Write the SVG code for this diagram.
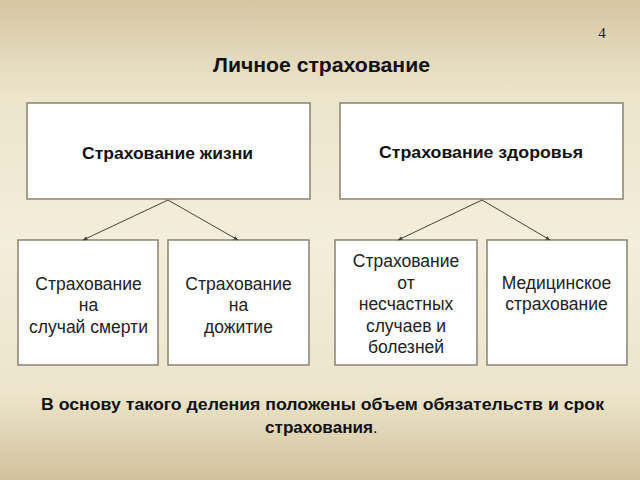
<svg xmlns="http://www.w3.org/2000/svg" width="640" height="480" viewBox="0 0 640 480">
<defs>
<linearGradient id="bg" x1="0" y1="0" x2="0" y2="1">
<stop offset="0" stop-color="#d6c6a2"/>
<stop offset="0.2" stop-color="#ece5cc"/>
<stop offset="0.5" stop-color="#f3eedb"/>
<stop offset="0.82" stop-color="#ece5cc"/>
<stop offset="1" stop-color="#d2c19b"/>
</linearGradient>
<marker id="ah" viewBox="0 0 10 10" refX="9" refY="5" markerWidth="5" markerHeight="5" orient="auto-start-reverse" markerUnits="userSpaceOnUse">
<path d="M0,1 L10,5 L0,9 z" fill="#4a4235"/>
</marker>
<style>
.box{fill:#ffffff;stroke:#8a8272;stroke-width:1.5}
.bt{font-family:"Liberation Sans",Arial,sans-serif;font-size:16.5px;font-weight:bold;fill:#111;text-anchor:middle}
.st{font-family:"Liberation Sans",Arial,sans-serif;font-size:17.5px;fill:#222;text-anchor:middle}
.conn{stroke:#4a4235;stroke-width:1;fill:none;marker-end:url(#ah)}
</style>
</defs>
<rect x="0" y="0" width="640" height="480" fill="url(#bg)"/>
<text x="602" y="38" font-family="Liberation Serif,serif" font-size="15" fill="#222" text-anchor="middle">4</text>
<text x="321.5" y="72" font-family="Liberation Sans,Arial,sans-serif" font-size="20" font-weight="bold" fill="#111" text-anchor="middle" textLength="217" lengthAdjust="spacingAndGlyphs">Личное страхование</text>
<g id="n-life"><rect class="box" x="27" y="103" width="283" height="96"/><text class="bt" x="167.5" y="159" textLength="171" lengthAdjust="spacingAndGlyphs">Страхование жизни</text></g>
<g id="n-health"><rect class="box" x="340" y="103" width="283" height="96"/><text class="bt" x="481" y="158" textLength="204" lengthAdjust="spacingAndGlyphs">Страхование здоровья</text></g>
<g id="n-death"><rect class="box" x="18" y="240" width="140" height="125"/><text class="st" x="88.5" y="289.5">Страхование</text><text class="st" x="88.5" y="311">на</text><text class="st" x="88.5" y="332.5">случай смерти</text></g>
<g id="n-survival"><rect class="box" x="168" y="240" width="141" height="125"/><text class="st" x="238.5" y="289.5">Страхование</text><text class="st" x="238.5" y="311">на</text><text class="st" x="238.5" y="332.5">дожитие</text></g>
<g id="n-accident"><rect class="box" x="335" y="240" width="142" height="125"/><text class="st" x="406" y="267">Страхование</text><text class="st" x="406" y="288.5">от</text><text class="st" x="406" y="310">несчастных</text><text class="st" x="406" y="331.5">случаев и</text><text class="st" x="406" y="353">болезней</text></g>
<g id="n-medical"><rect class="box" x="487" y="240" width="140" height="125"/><text class="st" x="556.5" y="289">Медицинское</text><text class="st" x="556.5" y="310">страхование</text></g>
<g id="connectors">
<line class="conn" x1="168" y1="200" x2="83" y2="240"/>
<line class="conn" x1="168" y1="200" x2="238" y2="240"/>
<line class="conn" x1="482" y1="200" x2="398" y2="240"/>
<line class="conn" x1="482" y1="200" x2="550" y2="240"/>
</g>
<text x="322.5" y="410" font-family="Liberation Sans,Arial,sans-serif" font-size="16" font-weight="bold" fill="#111" text-anchor="middle" textLength="563" lengthAdjust="spacingAndGlyphs">В основу такого деления положены объем обязательств и срок</text>
<text x="265" y="433" font-family="Liberation Sans,Arial,sans-serif" font-size="16" fill="#111"><tspan font-weight="bold" textLength="108" lengthAdjust="spacingAndGlyphs">страхования</tspan>.</text>
</svg>
